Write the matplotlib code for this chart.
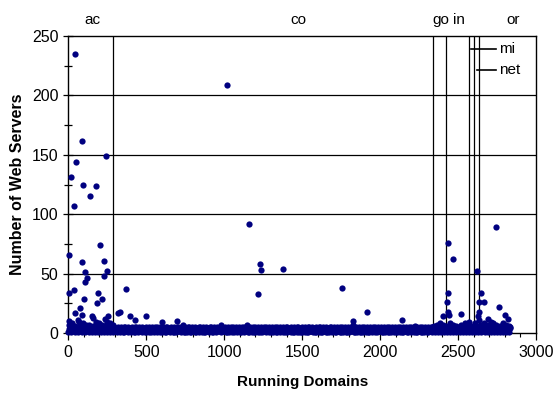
import matplotlib
matplotlib.use("Agg")
import matplotlib.pyplot as plt
import numpy as np

plt.rcParams['font.family'] = ['Liberation Sans', 'DejaVu Sans']

# baseline: server counts for every 10th running domain (three readings of the dense band)
base_low = ("12131212312141213121312131213" "121312112131211213121"
            "12112121211211212111221211121121121211121211213212"
            "21112112121121211211121112212111211212111221112111"
            "12111221112111211121211211121112211121112111212112"
            "2111211121112111211212111211121121" "2121312121213121"
            "2131212131213121312121312131213121")
base_mid = ("34353435343534353435343534353" "323332333233323332333"
            "33233323332333233323332333233323332333233323332333"
            "23332333233323332333233323332333233323332333233323"
            "33233323332333233323332333233323332333233323332333"
            "3233323332333233323332333233323332" "4343434343434343"
            "3434343434343434343434343434343434")
base_high = ("74856396485737465948574695847" "545454554545455454545"
             "45454554545455454545545454554545455454545545454554"
             "54545545454554545455454545545454554545455454545545"
             "45455454545545454554545455454545545454554545455454"
             "5454554545455454545545454554545455" "6574857465847564"
             "5746857465846574857465847564857465")
base_vals = ([int(c) for c in base_low] + [int(c) for c in base_mid]
             + [int(c) for c in base_high])
base_x = ([i * 10 for i in range(len(base_low))] + [i * 10 + 3 for i in range(len(base_mid))]
          + [i * 10 + 6 for i in range(len(base_high))])

# scattered domains with more servers
out_x = [43, 1016, 90, 240, 49, 15, 96, 178, 137, 37, 6, 205, 88, 227, 109, 246,
         118, 109, 231, 6, 37, 190, 103, 218, 75, 184, 43, 90, 64, 2, 152, 158,
         253, 237, 321, 334, 368, 396, 430, 497, 601, 695, 733, 978, 1144,
         1161, 1232, 1236, 1217, 1379, 1754, 1824, 1824, 1918, 2142, 2222,
         2433, 2468, 2624, 2742, 2433, 2427, 2433, 2405, 2442, 2521, 2568,
         2645, 2636, 2665, 2632, 2626, 2761, 2694, 2801, 2822, 2710, 2632]
out_y = [235, 209, 162, 149, 144, 131, 125, 124, 115, 107, 66, 74, 60, 61, 51, 52,
         46, 43, 48, 34, 36, 34, 29, 29, 21, 25, 17, 15, 11, 10, 14, 13,
         14, 12, 17, 18, 37, 14, 11, 14, 9, 10, 7, 7, 7,
         92, 58, 53, 33, 54, 38, 10, 7, 18, 11, 6,
         76, 62, 52, 89, 34, 26, 18, 14, 15, 16, 9,
         34, 26, 26, 18, 14, 22, 12, 15, 12, 9, 11]

# domain group boundaries and labels
bounds = [288, 2340, 2423, 2570, 2603, 2635]
top_labels = ["ac", "co", "go", "in", "or"]
top_pos = [158, 1473, 2390, 2505, 2851]

fig = plt.figure(figsize=(5.56, 4.01), dpi=100)
ax = fig.add_axes([0.1228, 0.1696, 0.8412, 0.7406])

for b in bounds:
    ax.axvline(b, color='black', lw=0.9, zorder=1)
for g in [50, 100, 150, 200]:
    ax.axhline(g, color='black', lw=0.9, zorder=1)

ax.plot(base_x, base_vals, 'o', color='#000080', ms=4.5, mew=0, clip_on=False, zorder=3)
ax.plot(out_x, out_y, 'o', color='#000080', ms=4.5, mew=0, clip_on=False, zorder=3)

ax.set_xlim(0, 3000)
ax.set_ylim(0, 250)
ax.set_xticks(range(0, 3001, 500))
ax.set_xticks(range(0, 3001, 100), minor=True)
ax.set_yticks(range(0, 251, 50))
ax.set_yticks(range(25, 251, 50), minor=True)
ax.tick_params(axis='x', which='major', direction='out', length=5, labelsize=11.5, width=0.9)
ax.tick_params(axis='x', which='minor', direction='out', length=3, width=0.8)
ax.tick_params(axis='y', which='major', direction='inout', length=7, labelsize=11.5, width=0.9)
ax.tick_params(axis='y', which='minor', direction='inout', length=6, width=0.9)
for s in ax.spines.values():
    s.set_linewidth(1.0)

for t, p in zip(top_labels, top_pos):
    ax.text(p, 263.5, t, ha='center', va='center', fontsize=11)

ax.plot([2583, 2743], [239, 239], color='black', lw=1.2, clip_on=False)
ax.text(2760, 239, "mi", ha='left', va='center', fontsize=11)
ax.plot([2621, 2743], [221, 221], color='black', lw=1.2, clip_on=False)
ax.text(2760, 221, "net", ha='left', va='center', fontsize=11)

ax.set_xlabel("Running Domains", fontsize=11, fontweight='bold', labelpad=11)
ax.set_ylabel("Number of Web Servers", fontsize=11.5, fontweight='bold', labelpad=5)

fig.savefig("out.png", dpi=100)
